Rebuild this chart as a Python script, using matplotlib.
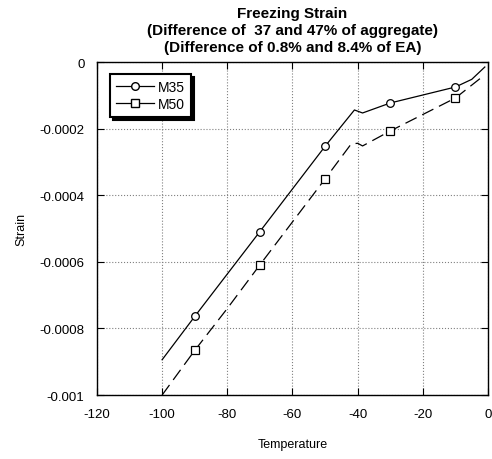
import matplotlib
matplotlib.use("Agg")
import matplotlib.pyplot as plt

plt.rcParams['font.family'] = ['Liberation Sans', 'DejaVu Sans']
plt.rcParams['axes.unicode_minus'] = False

# marker points
mark_temp = [-90, -70, -50, -30, -10]
m35_mark = [-0.000764, -0.000509, -0.000253, -0.000123, -0.000075]
m50_mark = [-0.000866, -0.000609, -0.000351, -0.000207, -0.000108]

# curve points
m35_temp = [-100, -90, -70, -50, -41, -38.5, -30, -10, -5, -1]
m35_strain = [-0.000894, -0.000764, -0.000509, -0.000253, -0.000144,
              -0.000153, -0.000123, -0.000075, -0.000052, -0.000015]
m50_temp = [-100, -90, -80, -70, -50, -42, -40, -38.5, -30, -10, -2.5]
m50_strain = [-0.001, -0.000866, -0.00074, -0.000609, -0.000351, -0.000246,
              -0.000244, -0.000252, -0.000207, -0.000108, -0.00005]

xticks = [-120, -100, -80, -60, -40, -20, 0]
yticks = [0, -0.0002, -0.0004, -0.0006, -0.0008, -0.001]
ytick_labels = ['0', '-0.0002', '-0.0004', '-0.0006', '-0.0008', '-0.001']

fig = plt.figure(figsize=(4.92, 4.60), dpi=100)
ax = fig.add_axes([0.197, 0.139, 0.795, 0.724])

ax.plot(m35_temp, m35_strain, color='black', lw=0.9)
ax.plot(m50_temp, m50_strain, color='black', lw=0.9, linestyle=(0, (10, 5)))
ax.plot(mark_temp, m35_mark, linestyle='none', marker='o', ms=5.5,
        mfc='white', mec='black', mew=0.9)
ax.plot(mark_temp, m50_mark, linestyle='none', marker='s', ms=5.5,
        mfc='white', mec='black', mew=0.9)

# legend handles
ax.plot([], [], color='black', lw=0.9, marker='o', ms=5.5, mfc='white',
        mec='black', label='M35')
ax.plot([], [], color='black', lw=0.9, marker='s', ms=5.5, mfc='white',
        mec='black', label='M50')
leg = ax.legend(loc='upper left', bbox_to_anchor=(0.016, 0.985), fontsize=10,
                handlelength=2.7, handletextpad=0.3, borderpad=0.45,
                labelspacing=0.2, fancybox=False, framealpha=1,
                shadow={'color': 'black', 'alpha': 1})
leg.get_frame().set_edgecolor('black')
leg.get_frame().set_linewidth(1.5)

ax.set_xlim(-120, 0)
ax.set_ylim(-0.001, 0)
ax.set_xticks(xticks)
ax.set_yticks(yticks)
ax.set_yticklabels(ytick_labels)
ax.tick_params(direction='in', length=5, top=True, right=True,
               labelsize=9.5, pad=9)
ax.grid(True, color='gray', linestyle=':', lw=0.8)
for s in ax.spines.values():
    s.set_color('black')
    s.set_linewidth(1.0)

ax.set_xlabel('Temperature', fontsize=9, labelpad=13)
ax.set_ylabel('Strain', fontsize=9, labelpad=9)
ax.set_title('Freezing Strain\n(Difference of  37 and 47% of aggregate)\n'
             '(Difference of 0.8% and 8.4% of EA)',
             fontsize=11, fontweight='bold', linespacing=1.25, pad=8)

fig.savefig('out.png', dpi=100)
